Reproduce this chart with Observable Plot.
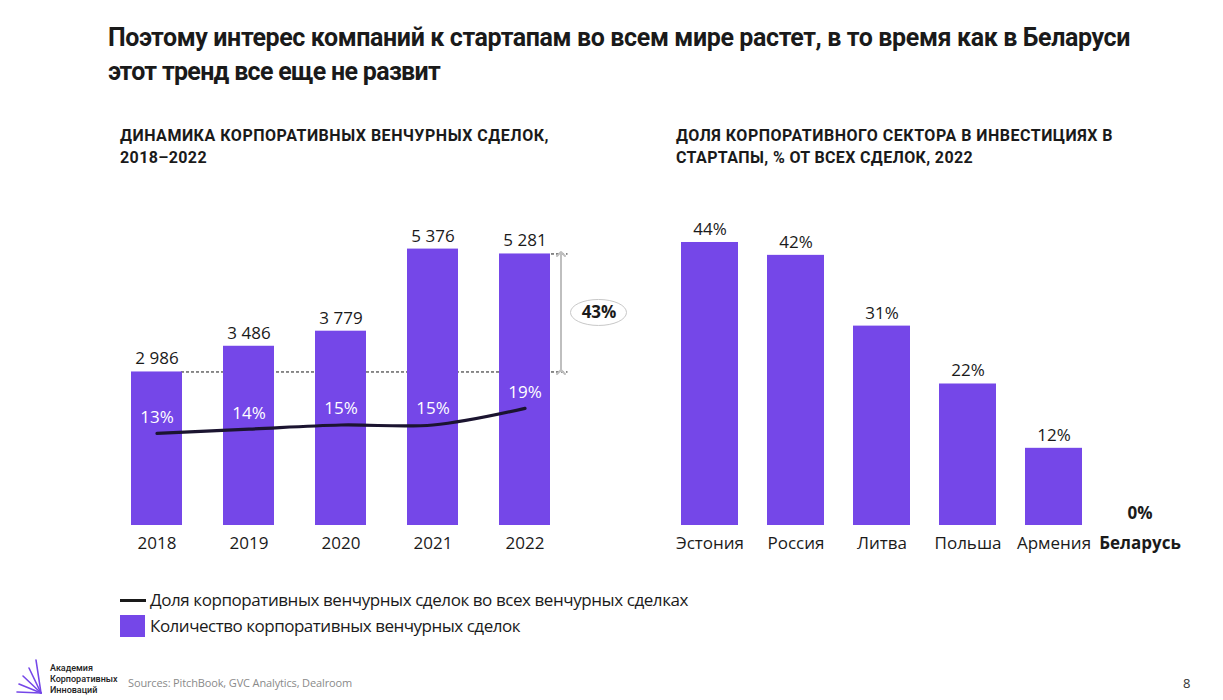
<!DOCTYPE html>
<html><head><meta charset="utf-8">
<script src="https://cdn.jsdelivr.net/npm/d3@7"></script>
<script src="https://cdn.jsdelivr.net/npm/@observablehq/plot@0.6"></script>
<style>
body{margin:0;background:#fff;font-family:"Open Sans",sans-serif;color:#1a1a1a}
#page{position:relative;width:1223px;height:700px;overflow:hidden;background:#fff}
.abs{position:absolute;white-space:nowrap;line-height:1}
.h{font-family:Roboto,sans-serif;font-weight:700}
.chart{position:absolute}
</style></head><body><div id="page">
<div class="abs h fit" data-w="1022" style="left:108px;top:25px;font-size:25px">Поэтому интерес компаний к стартапам во всем мире растет, в то время как в Беларуси</div>
<div class="abs h fit" data-w="332" style="left:108px;top:59px;font-size:25px">этот тренд все еще не развит</div>
<div class="abs h fit" data-w="429" style="left:120px;top:128px;font-size:16px">ДИНАМИКА КОРПОРАТИВНЫХ ВЕНЧУРНЫХ СДЕЛОК,</div>
<div class="abs h fit" data-w="87" style="left:120px;top:150px;font-size:16px">2018–2022</div>
<div class="abs h fit" data-w="437" style="left:676px;top:128px;font-size:16px">ДОЛЯ КОРПОРАТИВНОГО СЕКТОРА В ИНВЕСТИЦИЯХ В</div>
<div class="abs h fit" data-w="297" style="left:676px;top:150px;font-size:16px">СТАРТАПЫ, % ОТ ВСЕХ СДЕЛОК, 2022</div>
<div id="left" class="chart" style="left:0;top:200px"></div>
<div id="leftLine" class="chart" style="left:0;top:200px"></div>
<div id="right" class="chart" style="left:640px;top:200px"></div>
<div class="abs" style="left:120px;top:599px;width:26px;height:3px;background:#1a1a1a"></div>
<div class="abs fit" data-w="538" style="left:150px;top:591px;font-size:17px">Доля корпоративных венчурных сделок во всех венчурных сделках</div>
<div id="sw" class="abs" style="left:120px;top:615px;width:25px;height:22px"></div>
<div class="abs fit" data-w="370" style="left:150px;top:617px;font-size:17px">Количество корпоративных венчурных сделок</div>
<svg class="abs" style="left:14px;top:654px" width="34" height="42" viewBox="0 0 34 42">
 <g stroke="#7547e8" stroke-width="1.6" stroke-linecap="round">
  <line x1="27" y1="39" x2="22" y2="6"/><line x1="27" y1="39" x2="15" y2="14"/>
  <line x1="27" y1="39" x2="9" y2="22"/><line x1="27" y1="39" x2="5" y2="30"/>
  <line x1="27" y1="39" x2="3" y2="38"/>
 </g></svg>
<div class="abs h" style="left:50px;top:663px;font-size:9px;line-height:11px;font-weight:500;color:#222">Академия<br>Корпоративных<br>Инноваций</div>
<div class="abs fit" data-w="224" style="left:128px;top:677px;font-size:11px;color:#8a8a8a">Sources: PitchBook, GVC Analytics, Dealroom</div>
<div class="abs" style="left:1183px;top:677px;font-size:13px;color:#333">8</div>
</div>
<script>
// ---- data ----
const years = ["2018", "2019", "2020", "2021", "2022"];
const deals = [2986, 3486, 3779, 5376, 5281];
const shares = [0.13, 0.14, 0.15, 0.15, 0.19];
const growthLabel = "43%";
const countries = ["Эстония", "Россия", "Литва", "Польша", "Армения", "Беларусь"];
const corpShares = [0.44, 0.42, 0.31, 0.22, 0.12, 0];
const highlightCountry = "Беларусь";

const PURPLE = "#7547e8";
const INK = "#1a1a1a";
document.getElementById("sw").style.background = PURPLE;

const fmtNum = d3.formatLocale({thousands: "\u00a0", grouping: [3], decimal: ","}).format(",d");
const fmtPct = d3.format(".0%");

const dealData = years.map((y, i) => ({year: y, deals: deals[i], share: shares[i]}));
const countryData = countries.map((c, i) => ({country: c, share: corpShares[i]}));

const baseStyle = {fontFamily: "Open Sans, sans-serif", fontSize: "17px", color: INK, background: "transparent", overflow: "visible"};

// ---- left: bars ----
const left = Plot.plot({
  width: 640, height: 360,
  marginLeft: 88.5, marginRight: 47.5, marginTop: 16.5, marginBottom: 35,
  x: {domain: years, padding: 0.449, label: null, tickSize: 0, tickPadding: 11},
  y: {domain: [0, 6000], axis: null},
  style: baseStyle,
  marks: [
    Plot.ruleY([deals[0]], {stroke: INK, strokeWidth: 1, strokeDasharray: "3,2", insetLeft: 92.5, insetRight: 25}),
    Plot.ruleY([deals[4]], {stroke: INK, strokeWidth: 1, strokeDasharray: "3,2", insetLeft: 462.5, insetRight: 25}),
    Plot.barY(dealData, {x: "year", y: "deals", fill: PURPLE}),
    Plot.text(dealData, {x: "year", y: "deals", text: d => fmtNum(d.deals), dy: -13, fontSize: 17, fill: INK}),
    Plot.link([0], {x1: () => years[4], x2: () => years[4], y1: () => deals[0], y2: () => deals[4], dx: 36,
      stroke: "#bfbfbf", strokeWidth: 2, markerStart: "arrow", markerEnd: "arrow"}),
    Plot.text([growthLabel], {x: () => years[4], y: () => (deals[0] + deals[4]) / 2, dx: 74, fontWeight: "bold", fontSize: 17, fill: INK})
  ]
});
document.getElementById("left").append(left);
{
  const sx = left.scale("x"), sy = left.scale("y");
  const cx = sx.apply(years[4]) + sx.bandwidth / 2 + 74;
  const cy = sy.apply((deals[0] + deals[4]) / 2);
  d3.select(left).append("ellipse").attr("cx", cx).attr("cy", cy).attr("rx", 28).attr("ry", 13)
    .attr("fill", "none").attr("stroke", "#c8c8c8").attr("stroke-width", 1);
}

// ---- left: share line overlay ----
const leftLine = Plot.plot({
  width: 640, height: 360,
  marginLeft: 88.5, marginRight: 47.5, marginTop: 16.5, marginBottom: 35,
  x: {type: "band", domain: years, padding: 0.449, axis: null},
  y: {domain: [0, 0.3], range: [287, 162], axis: null},
  style: baseStyle,
  marks: [
    Plot.line(dealData, {x: "year", y: "share", curve: "catmull-rom", stroke: "#1b1430", strokeWidth: 3.2}),
    Plot.text(dealData, {x: "year", y: "share", text: d => fmtPct(d.share), dy: -16, fontSize: 17, fill: "#ffffff"})
  ]
});
document.getElementById("leftLine").append(leftLine);

// ---- right: bars ----
const right = Plot.plot({
  width: 583, height: 360,
  marginLeft: 10.6, marginRight: 24, marginTop: 3.4, marginBottom: 35,
  x: {domain: countries, padding: 0.34, label: null, tickSize: 0, tickPadding: 11},
  y: {domain: [0, 0.5], axis: null},
  style: baseStyle,
  marks: [
    Plot.barY(countryData, {x: "country", y: "share", fill: PURPLE}),
    Plot.text(countryData.filter(d => d.country !== highlightCountry), {x: "country", y: "share", text: d => fmtPct(d.share), dy: -13, fontSize: 17, fill: INK}),
    Plot.text(countryData.filter(d => d.country === highlightCountry), {x: "country", y: "share", text: d => fmtPct(d.share), dy: -12, fontSize: 17, fontWeight: "bold", fill: INK})
  ]
});
document.getElementById("right").append(right);
d3.select(right).selectAll("text").filter(function() { return this.textContent === highlightCountry; })
  .attr("font-weight", "bold");

// ---- fit headline text widths ----
document.querySelectorAll(".fit").forEach(el => {
  el.style.letterSpacing = "0px";
  const w = el.getBoundingClientRect().width;
  const n = el.textContent.length;
  el.style.letterSpacing = ((+el.dataset.w - w) / n) + "px";
});
</script>
</body></html>
